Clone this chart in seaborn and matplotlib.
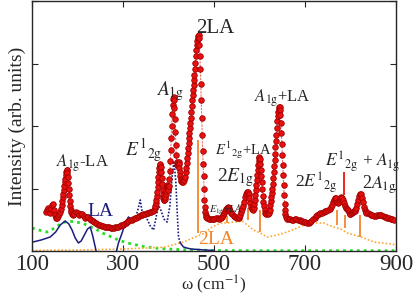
import numpy as np
import pandas as pd
import matplotlib
matplotlib.use("Agg")
import matplotlib.pyplot as plt
import seaborn as sns

raman_w = [131, 133, 135, 137, 140, 142, 144, 146, 148, 150, 153, 155, 157, 160, 162, 164, 166, 167, 168, 169,
           170, 171, 172, 173, 174, 175, 176, 177, 178, 179, 180, 181, 182, 183, 184, 185, 186,
           188, 190, 193, 197, 200, 204, 207, 210, 214, 217, 220, 223, 227, 230, 233, 236, 240, 243, 247, 250,
           253, 256, 260, 263, 266, 269, 273, 276, 280, 283, 286, 289, 293, 296, 299, 302, 306, 309, 312, 316,
           319, 322, 326, 329, 332, 335, 339, 342, 345, 349, 352, 355, 359, 362, 365, 368,
           370, 371, 372, 373, 374, 375, 376, 377, 378, 379, 380, 381, 382, 383, 384, 385, 386, 387, 388, 389,
           390, 391, 392, 393, 394, 395, 396, 397, 398, 399, 400, 401, 402, 403, 404, 405, 406, 407, 408, 409,
           410, 411, 412, 413, 414, 415, 416, 417, 418, 419, 420, 421, 422, 423, 424, 425, 426, 427, 428,
           430, 432, 434, 436, 438,
           439, 440, 441, 442, 443, 444, 445, 446, 447, 448, 449, 450, 451, 452, 453, 454, 455, 456, 457, 458,
           459, 460, 461, 462, 463, 464, 465, 466, 467, 468, 469, 470, 471, 472, 473, 474, 475, 476, 477, 478,
           479, 480, 481, 482, 483, 485,
           488, 492, 495, 498, 501, 505, 508, 512, 515, 518, 520, 522, 524, 526, 528, 530, 532, 534, 536, 538,
           540, 543, 547, 550, 554, 556, 558, 560, 562, 564, 566, 568, 570, 572, 574, 576, 578, 580, 582, 584, 586,
           588, 589, 590, 591, 592, 593, 594, 595, 596, 597, 598, 599, 600, 601, 602, 603, 604, 605, 606, 607,
           608, 609, 611, 613, 615, 618, 620, 622,
           624, 625, 626, 627, 628, 629, 630, 631, 632, 633, 634, 635, 636, 637, 638, 639, 640, 641, 642, 643,
           644, 645, 646, 647, 648, 649, 650, 651, 652, 653, 654, 655, 656, 657, 659,
           661, 664, 668, 671, 674, 678, 681, 685, 688, 691, 694, 698, 701, 704, 708, 711, 714, 717, 721, 724,
           727, 731, 734, 737, 741, 744, 747, 751, 754, 757,
           759, 761, 763, 765, 767, 769, 771, 772, 774, 776, 778, 780, 782, 784, 786, 788, 790, 792, 794, 796,
           798, 800, 803, 805, 807, 809, 811, 813, 815, 817, 819, 821, 823, 825, 827, 829, 831, 833, 835, 838,
           842, 845, 848, 852, 855, 858, 862, 865, 868, 872, 875, 878, 881, 885, 888, 891, 895]
raman_i = [39, 41, 43, 41, 38, 42, 46, 47, 41, 36, 33, 33, 35, 37, 39, 42, 46, 50, 54, 57,
           61, 65, 69, 72, 76, 79, 81, 81, 78, 74, 68, 62, 56, 50, 45, 41, 39,
           37, 36, 37, 39, 38, 36, 37, 37, 35, 33, 34, 34, 32, 31, 30, 29, 28, 27, 26, 26,
           25, 25, 24, 24, 24, 24, 23, 23, 23, 24, 24, 24, 25, 26, 26, 27, 28, 29, 30, 31,
           31, 32, 33, 33, 34, 35, 36, 36, 37, 37, 38, 38, 39, 39, 40, 41,
           43, 45, 48, 51, 55, 59, 64, 69, 74, 79, 83, 86, 87, 84, 79, 73, 67, 61, 56, 53,
           51, 51, 52, 54, 57, 60, 64, 66, 65, 62, 61, 65, 72, 80, 90, 101, 113, 125, 137, 146,
           152, 154, 151, 143, 132, 119, 106, 96, 89, 86, 86, 88, 89, 87, 83, 79, 75, 72, 70,
           69, 69, 71, 74, 79,
           83, 88, 93, 98, 103, 108, 113, 118, 123, 128, 133, 139, 145, 151, 156, 161, 166, 171, 176, 182,
           188, 195, 201, 206, 210, 213, 215, 216, 213, 206, 195, 182, 167, 151, 133, 116, 100, 87, 75, 62,
           51, 44, 39, 36, 34, 33,
           32, 32, 32, 32, 32, 33, 33, 32, 33, 34, 36, 38, 40, 42, 43, 44, 43, 41, 40, 38,
           37, 35, 34, 33, 33, 34, 36, 39, 42, 45, 49, 54, 57, 59, 59, 57, 53, 48, 44, 42, 41,
           43, 47, 51, 56, 61, 66, 71, 76, 81, 86, 90, 93, 94, 92, 87, 81, 75, 69, 62, 55,
           49, 45, 41, 38, 37, 37, 38, 41,
           46, 50, 54, 58, 62, 67, 73, 79, 85, 91, 97, 104, 110, 116, 123, 130, 135, 139, 142, 144,
           144, 141, 136, 128, 118, 107, 96, 86, 76, 66, 56, 47, 41, 37, 34,
           32, 32, 32, 31, 31, 32, 32, 31, 31, 30, 30, 29, 29, 28, 28, 29, 30, 32, 33, 35,
           36, 37, 38, 38, 39, 40, 40, 41, 42, 44,
           46, 49, 51, 52, 53, 53, 49, 48, 49, 51, 53, 54, 53, 51, 48, 45, 43, 42, 41, 39,
           37, 37, 38, 39, 40, 40, 41, 43, 47, 51, 55, 57, 57, 53, 49, 44, 41, 39, 38, 38,
           37, 36, 36, 35, 35, 36, 36, 36, 36, 35, 34, 34, 33, 33, 32, 32, 31]

# LA curve (navy), solid and dotted parts
la_w_a = [102, 120, 140, 152, 162, 173, 181, 188, 195, 202, 208, 215, 222, 228, 233, 239, 245, 260, 275, 283, 290, 298, 305, 312]
la_i_a = [9, 11, 14, 19, 26, 30, 27, 21, 13, 8, 10, 16, 22, 24, 16, 4, -8, -20, -15, -5, 8, 18, 28, 34]
la_w_b = [312, 318, 325, 332, 338, 343, 347, 352, 360, 367, 372, 378, 384, 390, 397, 403, 408, 412, 416, 419, 422, 426]
la_i_b = [34, 31, 29, 40, 51, 36, 39, 33, 25, 21, 32, 46, 40, 32, 29, 45, 75, 90, 70, 40, 14, 8]
la_w_c = [426, 433, 440, 450, 465, 480, 500]
la_i_c = [8, 4, 3, 2, 1.5, 1, 0.5]

# green dotted background curve
gr_w = [100, 115, 133, 150, 165, 180, 195, 210, 225, 240, 255, 270, 290, 310, 330, 350, 380, 420, 460, 500, 600, 700, 800, 900]
gr_i = [23, 21, 19, 23, 28, 30, 29, 28, 25, 22, 18, 15, 11, 8, 6, 4, 2.5, 1.5, 1, 0.5, 0.3, 0.3, 0.3, 0.3]

# 2LA curve (orange dotted)
la2_w = [100, 150, 200, 250, 300, 350, 393, 433, 464, 481, 492, 514, 529, 543, 562, 573, 587, 602, 617, 639,
         661, 683, 698, 712, 727, 741, 763, 778, 793, 808, 823, 852, 889, 900]
la2_i = [0.5, 0.8, 1, 1.5, 2, 3, 4, 9, 15, 18, 23, 28, 28, 29, 30, 26, 21, 18, 14, 16,
         19, 23, 26, 28, 28, 28, 24, 22, 18, 16, 14, 9, 7, 6]

# short vertical marker lines
vl_w = [464, 528, 575, 601, 770, 789, 821]
vl_lo = [18, 28, 31, 19, 26, 23, 14]
vl_hi = [111, 35, 43, 41, 41, 36, 36]
red_w = [785]
red_lo = [56]
red_hi = [79]

assert len(raman_w) == len(raman_i)

sns.set_style("ticks")
plt.rcParams['font.family'] = ['Liberation Serif', 'DejaVu Serif']
plt.rcParams['mathtext.fontset'] = 'stix'

fig = plt.figure(figsize=(4.14, 2.96), dpi=100)
ax = fig.add_axes([0.0773, 0.152, 0.8792, 0.8446])

sns.lineplot(x=gr_w, y=gr_i, ax=ax, color='#22dd22', linestyle=(0, (1, 1.5)), linewidth=2, sort=False, estimator=None)
sns.lineplot(x=la2_w, y=la2_i, ax=ax, color='#ffa733', linestyle=(0, (1, 1.2)), linewidth=1.2, sort=False, estimator=None)
sns.lineplot(x=la_w_a, y=la_i_a, ax=ax, color='#1c1c80', linewidth=1.1, sort=False, estimator=None)
sns.lineplot(x=la_w_b, y=la_i_b, ax=ax, color='#1c1c80', linestyle=(0, (1, 1)), linewidth=1.2, sort=False, estimator=None)
sns.lineplot(x=la_w_c, y=la_i_c, ax=ax, color='#1c1c80', linewidth=1.1, sort=False, estimator=None)

ax.vlines(vl_w, vl_lo, vl_hi, color='#f5852a', linewidth=1.3)

sns.lineplot(x=raman_w, y=raman_i, ax=ax, color='#f07070', linestyle=(0, (2, 1)), linewidth=0.8,
             marker='o', markersize=4, markerfacecolor='#e81010', markeredgecolor='#a00000',
             markeredgewidth=0.6, sort=False, estimator=None)

ax.vlines(red_w, red_lo, red_hi, color='#ee1111', linewidth=1.3)

# peak labels
ax.text(212, 88, r'$A_{\rm 1g}$-LA', fontsize=12, ha='center', va='center')
ax.text(250, 40, 'LA', fontsize=14, color='#1c1c80', ha='center', va='center')
ax.text(346, 101, r'$E^{1}{}_{\rm 2g}$', fontsize=14, ha='center', va='center')
ax.text(404, 160, r'$A_{\rm 1g}$', fontsize=14, ha='center', va='center')
ax.text(503, 223, '2LA', fontsize=15, ha='center', va='center')
ax.text(650, 153, r'$A_{\rm 1g}$+LA', fontsize=12, ha='center', va='center')
ax.text(565, 101, r'$E^{1}{}_{\rm 2g}$+LA', fontsize=10.5, ha='center', va='center')
ax.text(547, 73, r'2$E_{\rm 1g}$', fontsize=14, ha='center', va='center')
ax.text(525, 41, r'$E_{\rm 1g}$+$LA$', fontsize=7.5, ha='center', va='center')
ax.text(505, 12, '2LA', fontsize=14, color='#f5852a', ha='center', va='center')
ax.text(725, 68, r'2$E^{1}{}_{\rm 2g}$', fontsize=12.5, ha='center', va='center')
ax.text(827, 89, r'$E^{1}{}_{\rm 2g}$ + $A_{\rm 1g}$', fontsize=12.5, ha='center', va='center')
ax.text(862, 66, r'2$A_{\rm 1g}$', fontsize=13, ha='center', va='center')

ax.set_xlim(100, 900)
ax.set_ylim(0, 250)
ax.set_xticks([100, 300, 500, 700, 900])
ax.set_yticks([0, 62.5, 125, 187.5, 250])
ax.set_yticklabels([])
ax.tick_params(direction='in', top=True, right=True, labelsize=16.5, length=4, width=0.8, pad=2)
for s in ax.spines.values():
    s.set_linewidth(1.0)
ax.set_xlabel(r'ω (cm$^{-1}$)', fontsize=12.5)
ax.xaxis.set_label_coords(0.5, -0.092)
ax.set_ylabel('Intensity (arb. units)', fontsize=14, labelpad=2)

fig.savefig('out.png', dpi=100)
